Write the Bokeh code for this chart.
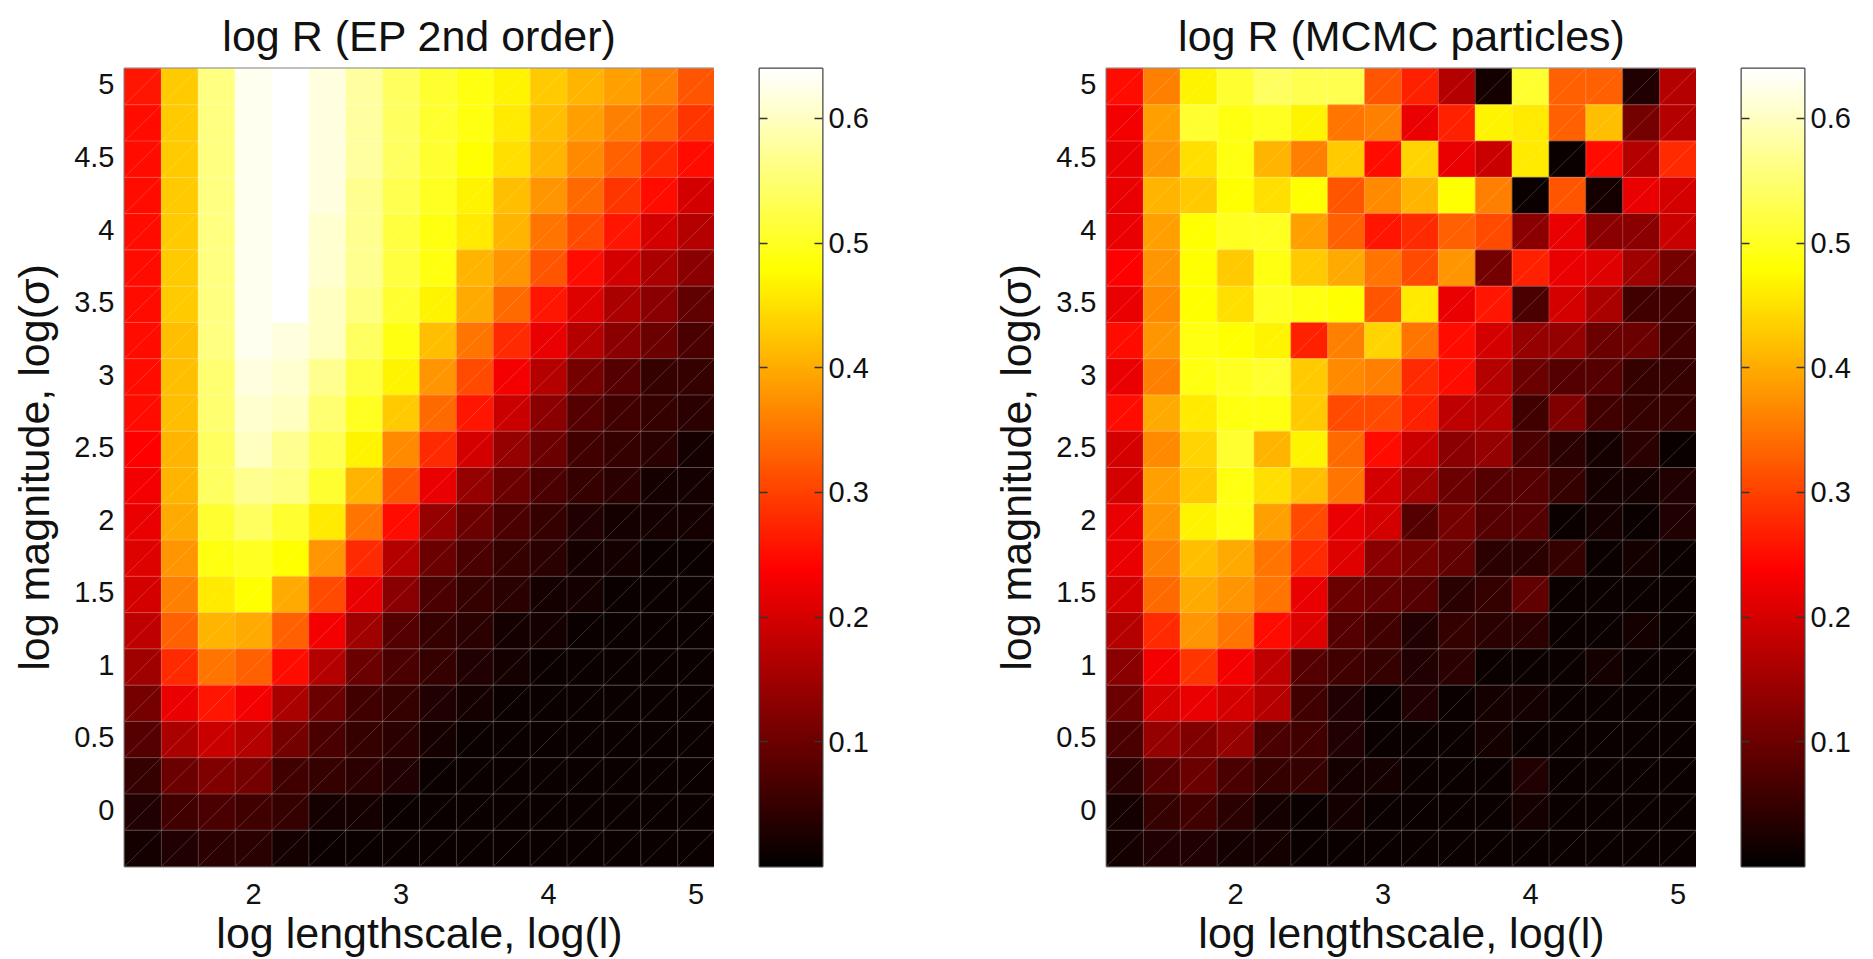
import numpy as np
from bokeh.plotting import figure
from bokeh.layouts import row
from bokeh.models import LinearColorMapper, FixedTicker, LinearAxis, Range1d, ColumnDataSource
from bokeh.embed import file_html
from bokeh.resources import INLINE

title_ep = "log R (EP 2nd order)"
title_mcmc = "log R (MCMC particles)"
x_label = "log lengthscale, log(l)"
y_label = "log magnitude, log(σ)"
x_ticks = [2, 3, 4, 5]
y_ticks = [0, 0.5, 1, 1.5, 2, 2.5, 3, 3.5, 4, 4.5, 5]
y_tick_labels = ["0", "0.5", "1", "1.5", "2", "2.5", "3", "3.5", "4", "4.5", "5"]
cbar_ticks = [0.1, 0.2, 0.3, 0.4, 0.5, 0.6]
cbar_tick_labels = ["0.1", "0.2", "0.3", "0.4", "0.5", "0.6"]
x_min, x_max = 1.125, 5.125
y_min, y_max = -0.39, 5.11
v_min, v_max = 0.0, 0.64
step = 0.25

# rows listed from the top of the panel to the bottom
ep_rows = [
    [.25, .42, .55, .625, .64, .61, .575, .535, .505, .48, .465, .42, .405, .385, .35, .31],
    [.245, .42, .55, .625, .64, .61, .575, .535, .505, .48, .45, .415, .385, .35, .32, .28],
    [.24, .42, .55, .625, .64, .61, .575, .53, .50, .47, .44, .40, .36, .32, .27, .24],
    [.245, .42, .55, .625, .64, .61, .57, .52, .495, .46, .415, .375, .335, .29, .24, .195],
    [.245, .42, .55, .625, .64, .605, .565, .515, .485, .45, .40, .345, .30, .25, .195, .16],
    [.24, .42, .55, .625, .64, .60, .56, .51, .48, .405, .37, .31, .245, .195, .15, .12],
    [.24, .42, .55, .625, .64, .595, .55, .50, .46, .39, .335, .25, .205, .15, .12, .085],
    [.24, .415, .55, .625, .615, .59, .535, .485, .415, .345, .27, .21, .16, .12, .09, .06],
    [.24, .41, .545, .61, .60, .565, .51, .46, .375, .30, .225, .16, .105, .075, .045, .04],
    [.24, .41, .54, .60, .59, .54, .49, .42, .335, .25, .18, .12, .075, .05, .04, .03],
    [.235, .405, .535, .59, .565, .525, .46, .36, .27, .19, .135, .09, .05, .04, .03, .015],
    [.225, .405, .535, .57, .55, .50, .405, .31, .215, .135, .09, .06, .04, .03, .015, .015],
    [.21, .39, .505, .535, .505, .45, .34, .24, .135, .09, .06, .04, .025, .015, .015, .01],
    [.205, .375, .48, .49, .47, .375, .27, .165, .09, .06, .045, .03, .015, .015, .008, .008],
    [.195, .35, .45, .47, .39, .30, .21, .12, .06, .045, .03, .015, .012, .008, .008, .008],
    [.17, .325, .405, .39, .325, .225, .14, .075, .045, .03, .015, .012, .008, .008, .008, .008],
    [.14, .27, .345, .325, .245, .16, .095, .06, .04, .02, .015, .008, .008, .008, .006, .006],
    [.105, .21, .25, .225, .15, .09, .05, .04, .02, .012, .008, .006, .006, .006, .006, .006],
    [.07, .15, .18, .16, .105, .06, .04, .03, .015, .006, .006, .006, .006, .006, .006, .006],
    [.045, .09, .11, .105, .05, .04, .03, .02, .008, .006, .006, .006, .006, .006, .006, .006],
    [.02, .05, .06, .05, .04, .015, .015, .008, .008, .006, .006, .006, .006, .006, .006, .006],
    [.01, .025, .03, .03, .015, .006, .006, .006, .006, .006, .006, .006, .006, .006, .006, .006],
]

mcmc_rows = [
    [.24, .35, .46, .505, .535, .525, .525, .31, .26, .165, .015, .50, .32, .32, .025, .165],
    [.225, .385, .50, .485, .49, .46, .34, .35, .215, .26, .465, .45, .325, .415, .105, .165],
    [.215, .37, .44, .48, .405, .35, .42, .24, .43, .215, .18, .45, .008, .24, .16, .27],
    [.21, .40, .42, .47, .44, .475, .31, .36, .40, .475, .35, .008, .31, .015, .215, .19],
    [.215, .385, .47, .49, .49, .385, .325, .25, .27, .325, .30, .12, .21, .12, .12, .18],
    [.23, .37, .47, .42, .48, .42, .39, .34, .30, .37, .105, .26, .215, .205, .14, .105],
    [.215, .36, .47, .44, .49, .48, .47, .31, .45, .21, .25, .06, .195, .15, .05, .05],
    [.24, .37, .48, .47, .46, .265, .35, .43, .345, .245, .19, .135, .13, .095, .09, .05],
    [.215, .35, .48, .49, .50, .42, .36, .35, .27, .24, .16, .09, .075, .07, .04, .045],
    [.24, .39, .45, .48, .485, .42, .30, .30, .265, .17, .16, .05, .11, .05, .04, .045],
    [.19, .36, .43, .505, .405, .46, .335, .24, .18, .12, .13, .06, .03, .015, .03, .008],
    [.195, .385, .42, .48, .44, .415, .345, .19, .14, .09, .075, .075, .04, .015, .015, .025],
    [.21, .37, .46, .48, .385, .30, .215, .195, .075, .105, .07, .07, .008, .015, .008, .025],
    [.21, .35, .415, .39, .345, .27, .205, .12, .105, .085, .03, .03, .045, .006, .015, .008],
    [.19, .335, .39, .375, .345, .215, .095, .085, .07, .03, .045, .085, .006, .006, .006, .006],
    [.165, .27, .37, .345, .24, .205, .075, .05, .025, .04, .03, .03, .006, .006, .015, .006],
    [.12, .225, .29, .225, .17, .075, .05, .045, .025, .03, .006, .008, .006, .015, .008, .006],
    [.09, .195, .215, .195, .16, .05, .025, .008, .025, .006, .015, .015, .006, .006, .006, .006],
    [.06, .135, .11, .135, .06, .05, .025, .006, .006, .006, .012, .006, .006, .006, .006, .006],
    [.03, .075, .09, .06, .045, .045, .012, .012, .006, .006, .006, .02, .006, .006, .006, .006],
    [.015, .045, .05, .03, .01, .006, .012, .008, .006, .006, .006, .015, .006, .006, .006, .006],
    [.01, .02, .02, .012, .012, .008, .006, .006, .006, .006, .006, .006, .006, .006, .006, .006],
]

LEVELS = 64
BAR_LEVELS = 512


def hot_palette(m):
    n = 3 * m // 8
    colors = []
    for i in range(m):
        r = min(1.0, (i + 1) / n)
        g = min(1.0, max(0.0, (i + 1 - n) / n))
        b = min(1.0, max(0.0, (i + 1 - 2 * n) / (m - 2 * n)))
        colors.append("#%02x%02x%02x" % (round(r * 255), round(g * 255), round(b * 255)))
    return colors


palette = hot_palette(LEVELS)
bar_palette = hot_palette(256)
mapper = LinearColorMapper(palette=palette, low=v_min, high=v_max)
bar_mapper = LinearColorMapper(palette=bar_palette, low=v_min, high=v_max)
FONT = "Liberation Sans"
TICK_PX = "29px"
LABEL_PX = "43px"


def heat_panel(rows, title, border_left):
    p = figure(output_backend="svg", toolbar_location=None,
               x_range=Range1d(x_min, x_max), y_range=Range1d(y_min, y_max),
               frame_width=590, frame_height=798,
               min_border_left=border_left, min_border_right=0,
               min_border_top=68, min_border_bottom=88)
    left, right, top, bottom, vals = [], [], [], [], []
    for r, values in enumerate(rows):
        for c, v in enumerate(values):
            left.append(x_min + c * step)
            right.append(x_min + (c + 1) * step)
            top.append(y_max - r * step)
            bottom.append(y_max - (r + 1) * step)
            vals.append(v)
    src = ColumnDataSource(dict(left=left, right=right, top=top, bottom=bottom, v=vals))
    tr = {"field": "v", "transform": mapper}
    p.quad(left="left", right="right", top="top", bottom="bottom", source=src,
           fill_color=tr, line_color=tr, line_width=0.5)
    # faint mesh: row edges are a little stronger than column edges and cell diagonals
    rows_mesh = dict(x0=left, y0=top, x1=right, y1=top)
    cols_mesh = dict(x0=right + left, y0=bottom + bottom, x1=right + right, y1=top + top)
    p.segment("x0", "y0", "x1", "y1", source=ColumnDataSource(rows_mesh),
              line_color="white", line_alpha=0.26, line_width=1)
    p.segment("x0", "y0", "x1", "y1", source=ColumnDataSource(cols_mesh),
              line_color="white", line_alpha=0.18, line_width=1)

    p.grid.visible = False
    p.outline_line_color = "#808080"
    p.outline_line_width = 2
    p.title.text = title
    p.title.align = "center"
    p.title.text_font = FONT
    p.title.text_font_size = LABEL_PX
    p.title.text_font_style = "normal"
    p.title.text_color = "#111111"
    p.title.standoff = 17
    for ax, ticks in ((p.xaxis[0], x_ticks), (p.yaxis[0], y_ticks)):
        ax.ticker = FixedTicker(ticks=ticks)
        ax.axis_line_color = None
        ax.major_tick_line_color = None
        ax.minor_tick_line_color = None
        ax.major_label_text_font = FONT
        ax.major_label_text_font_size = TICK_PX
        ax.major_label_text_color = "#111111"
        ax.axis_label_text_font = FONT
        ax.axis_label_text_font_size = LABEL_PX
        ax.axis_label_text_font_style = "normal"
        ax.axis_label_text_color = "#111111"
    p.xaxis[0].major_label_standoff = 11
    p.xaxis[0].axis_label_standoff = 2
    p.yaxis[0].major_label_standoff = 4
    p.yaxis[0].axis_label_standoff = 13
    p.xaxis[0].axis_label = x_label
    p.yaxis[0].axis_label = y_label
    p.yaxis[0].major_label_orientation = "horizontal"
    p.yaxis[0].major_label_overrides = dict(zip(y_ticks, y_tick_labels))
    return p


def colorbar_panel():
    p = figure(output_backend="svg", toolbar_location=None,
               x_range=Range1d(0, 1), y_range=Range1d(v_min, v_max),
               frame_width=63, frame_height=798,
               min_border_left=45, min_border_right=60,
               min_border_top=68, min_border_bottom=88)
    ramp = np.linspace(v_min, v_max, BAR_LEVELS).reshape(BAR_LEVELS, 1)
    p.image(image=[ramp], x=0, y=v_min, dw=1, dh=v_max - v_min, color_mapper=bar_mapper)
    p.grid.visible = False
    p.outline_line_color = "#444444"
    p.outline_line_width = 2
    p.xaxis.visible = False
    ax_l = p.yaxis[0]
    ax_r = LinearAxis()
    p.add_layout(ax_r, "right")
    for ax in (ax_l, ax_r):
        ax.ticker = FixedTicker(ticks=cbar_ticks)
        ax.axis_line_color = None
        ax.minor_tick_line_color = None
        ax.major_tick_in = 8
        ax.major_tick_out = 0
        ax.major_tick_line_color = "#333333"
        ax.major_tick_line_width = 1.5
    ax_l.major_label_text_font_size = "0px"
    ax_l.major_label_text_color = None
    ax_l.major_label_standoff = 0
    ax_r.major_label_overrides = dict(zip(cbar_ticks, cbar_tick_labels))
    ax_r.major_label_text_font = FONT
    ax_r.major_label_text_font_size = TICK_PX
    ax_r.major_label_text_color = "#111111"
    ax_r.major_label_standoff = 6
    return p


layout = row(heat_panel(ep_rows, title_ep, 124), colorbar_panel(),
             heat_panel(mcmc_rows, title_mcmc, 224), colorbar_panel(), spacing=0)
open("out.html", "w").write(file_html(layout, INLINE))
